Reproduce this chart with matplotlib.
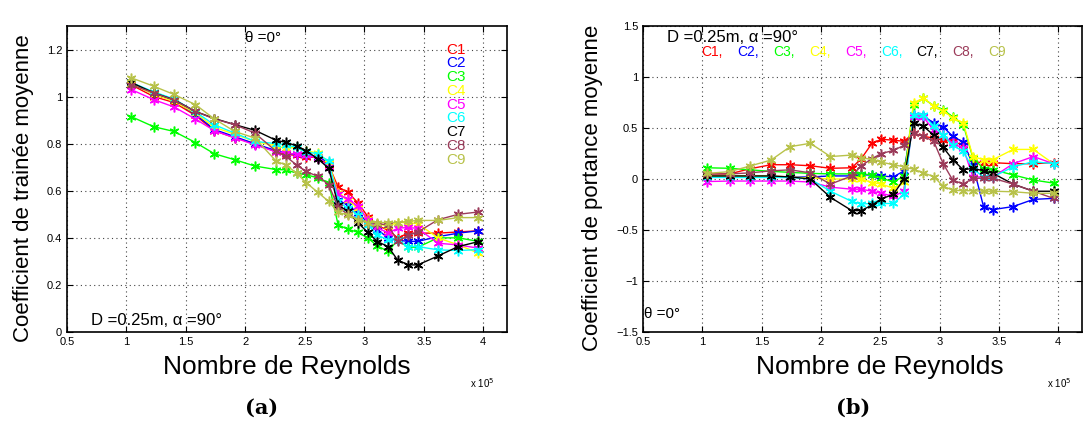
import numpy as np
import matplotlib.pyplot as plt

# Reynolds number (x 10^5)
re = [1.04, 1.23, 1.40, 1.58, 1.74, 1.91, 2.08, 2.26, 2.34, 2.43, 2.51, 2.61, 2.70,
      2.78, 2.86, 2.95, 3.03, 3.11, 3.20, 3.28, 3.37, 3.45, 3.62, 3.79, 3.96]

names = ["C1", "C2", "C3", "C4", "C5", "C6", "C7", "C8", "C9"]
colors = ["#ff0000", "#0000ff", "#00ff00", "#ffff00", "#ff00ff", "#00ffff",
          "#000000", "#9b3b5a", "#b8c24a"]

# (a) coefficient de trainee
cd_c1 = [1.05, 1.00, 0.975, 0.92, 0.855, 0.825, 0.80, 0.765, 0.755, 0.75, 0.745, 0.74, 0.71,
         0.615, 0.595, 0.547, 0.49, 0.45, 0.435, 0.40, 0.42, 0.42, 0.42, 0.425, 0.43]
cd_c2 = [1.06, 1.01, 0.985, 0.925, 0.86, 0.83, 0.80, 0.77, 0.76, 0.755, 0.75, 0.745, 0.72,
         0.56, 0.54, 0.505, 0.465, 0.435, 0.40, 0.39, 0.385, 0.385, 0.405, 0.42, 0.43]
cd_c3 = [0.915, 0.872, 0.852, 0.805, 0.757, 0.732, 0.705, 0.69, 0.689, 0.675, 0.668, 0.655, 0.635,
         0.455, 0.437, 0.423, 0.399, 0.366, 0.342, 0.39, 0.36, 0.36, 0.40, 0.40, 0.385]
cd_c4 = [1.055, 1.01, 0.98, 0.93, 0.87, 0.84, 0.81, 0.79, 0.78, 0.785, 0.77, 0.76, 0.72,
         0.59, 0.56, 0.525, 0.48, 0.46, 0.45, 0.465, 0.465, 0.46, 0.40, 0.37, 0.335]
cd_c5 = [1.03, 0.987, 0.956, 0.905, 0.855, 0.825, 0.795, 0.765, 0.76, 0.756, 0.75, 0.74, 0.70,
         0.585, 0.565, 0.534, 0.477, 0.444, 0.42, 0.441, 0.444, 0.44, 0.377, 0.37, 0.356]
cd_c6 = [1.06, 1.02, 0.99, 0.935, 0.88, 0.845, 0.81, 0.80, 0.795, 0.785, 0.765, 0.757, 0.725,
         0.555, 0.526, 0.498, 0.455, 0.413, 0.39, 0.391, 0.363, 0.363, 0.349, 0.346, 0.35]
cd_c7 = [1.06, 1.016, 0.987, 0.937, 0.907, 0.881, 0.857, 0.814, 0.806, 0.791, 0.771, 0.735, 0.696,
         0.54, 0.512, 0.462, 0.423, 0.384, 0.363, 0.306, 0.285, 0.285, 0.323, 0.363, 0.384]
cd_c8 = [1.05, 1.016, 0.985, 0.937, 0.905, 0.881, 0.845, 0.767, 0.746, 0.71, 0.682, 0.661, 0.626,
         0.53, 0.50, 0.475, 0.465, 0.46, 0.455, 0.385, 0.41, 0.425, 0.477, 0.50, 0.51]
cd_c9 = [1.08, 1.044, 1.009, 0.966, 0.905, 0.852, 0.824, 0.725, 0.71, 0.675, 0.635, 0.593, 0.555,
         0.508, 0.498, 0.477, 0.465, 0.465, 0.465, 0.465, 0.47, 0.474, 0.474, 0.486, 0.486]

# (b) coefficient de portance
cl_c1 = [0.05, 0.05, 0.10, 0.14, 0.14, 0.13, 0.105, 0.11, 0.20, 0.35, 0.39, 0.38, 0.37,
         0.45, 0.42, 0.40, 0.38, 0.37, 0.33, 0.17, 0.16, 0.16, 0.15, 0.15, 0.16]
cl_c2 = [0.02, 0.02, 0.02, 0.02, 0.02, 0.02, 0.03, 0.03, 0.04, 0.04, 0.03, 0.02, 0.08,
         0.63, 0.62, 0.55, 0.51, 0.42, 0.36, 0.14, -0.27, -0.30, -0.27, -0.20, -0.19]
cl_c3 = [0.11, 0.105, 0.09, 0.075, 0.065, 0.055, 0.05, 0.05, 0.05, 0.04, 0.01, -0.03, 0.03,
         0.73, 0.79, 0.72, 0.68, 0.61, 0.53, 0.21, 0.10, 0.09, 0.04, -0.01, -0.04]
cl_c4 = [0.03, 0.03, 0.03, 0.03, 0.02, 0.01, 0.0, 0.0, 0.0, -0.035, -0.05, -0.09, -0.03,
         0.75, 0.79, 0.72, 0.67, 0.60, 0.55, 0.22, 0.19, 0.19, 0.29, 0.29, 0.15]
cl_c5 = [-0.025, -0.02, -0.02, -0.02, -0.02, -0.03, -0.08, -0.10, -0.10, -0.12, -0.14, -0.17, -0.12,
         0.61, 0.61, 0.48, 0.43, 0.35, 0.30, 0.02, 0.02, 0.02, 0.15, 0.22, 0.15]
cl_c6 = [0.015, 0.015, 0.015, 0.015, 0.015, 0.0, -0.12, -0.22, -0.245, -0.24, -0.24, -0.24, -0.15,
         0.63, 0.63, 0.52, 0.43, 0.33, 0.27, 0.10, 0.02, 0.02, 0.12, 0.17, 0.15]
cl_c7 = [0.03, 0.03, 0.03, 0.03, 0.02, 0.0, -0.18, -0.31, -0.31, -0.255, -0.195, -0.15, 0.0,
         0.55, 0.52, 0.43, 0.31, 0.19, 0.09, 0.105, 0.08, 0.055, -0.05, -0.12, -0.12]
cl_c8 = [0.05, 0.05, 0.06, 0.08, 0.09, 0.06, -0.05, 0.03, 0.13, 0.20, 0.25, 0.28, 0.33,
         0.45, 0.42, 0.37, 0.15, -0.01, -0.05, 0.007, 0.007, 0.007, -0.05, -0.12, -0.19]
cl_c9 = [0.055, 0.072, 0.127, 0.186, 0.317, 0.35, 0.22, 0.235, 0.21, 0.19, 0.165, 0.14, 0.12,
         0.095, 0.062, 0.023, -0.07, -0.11, -0.115, -0.115, -0.12, -0.12, -0.125, -0.14, -0.14]

cd_all = [cd_c1, cd_c2, cd_c3, cd_c4, cd_c5, cd_c6, cd_c7, cd_c8, cd_c9]
cl_all = [cl_c1, cl_c2, cl_c3, cl_c4, cl_c5, cl_c6, cl_c7, cl_c8, cl_c9]

plt.rcParams["font.family"] = ["Liberation Sans", "DejaVu Sans"]

W, H = 1083, 424
fig = plt.figure(figsize=(W / 100, H / 100), dpi=100)

def px_axes(x0, x1, y0, y1):
    return fig.add_axes([x0 / W, 1 - y1 / H, (x1 - x0) / W, (y1 - y0) / H])

ax1 = px_axes(67, 507, 26, 332)
ax2 = px_axes(643, 1082, 26, 332)

for ax, data in [(ax1, cd_all), (ax2, cl_all)]:
    for y, c in zip(data, colors):
        # matlab-like asterisk marker
        ax.plot(re, y, color=c, marker=(6, 2, 0), markersize=7,
                markeredgewidth=1.1, linewidth=1)
    ax.set_xlim(0.5, 4.2)
    ax.set_xticks([0.5, 1, 1.5, 2, 2.5, 3, 3.5, 4])
    ax.set_xticklabels(["0.5", "1", "1.5", "2", "2.5", "3", "3.5", "4"])
    ax.grid(True, color="#444444", linestyle=(0, (1, 3)), linewidth=0.8)
    ax.tick_params(direction="in", labelsize=8, length=4, top=True, right=True)
    for s in ax.spines.values():
        s.set_linewidth(1.2)
    ax.set_xlabel("Nombre de Reynolds", fontsize=19)

ax1.set_ylim(0, 1.3)
ax1.set_yticks([0, 0.2, 0.4, 0.6, 0.8, 1, 1.2])
ax1.set_yticklabels(["0", "0.2", "0.4", "0.6", "0.8", "1", "1.2"])
ax1.set_ylabel("Coefficient de trainée moyenne", fontsize=16)
ax1.yaxis.set_label_coords(-0.075, 0.47)
ax1.xaxis.set_label_coords(0.50, -0.075)

ax2.set_ylim(-1.5, 1.5)
ax2.set_yticks([-1.5, -1, -0.5, 0, 0.5, 1, 1.5])
ax2.set_yticklabels(["\u22121.5", "\u22121", "\u22120.5", "0", "0.5", "1", "1.5"])
ax2.set_ylabel("Coefficient de portance moyenne", fontsize=16)
ax2.yaxis.set_label_coords(-0.091, 0.47)
ax2.xaxis.set_label_coords(0.54, -0.075)

# annotations
ax1.text(2.0, 1.25, "\u03b8 =0\u00b0", fontsize=11, va="center")
ax1.text(0.70, 0.05, "D =0.25m, \u03b1 =90\u00b0", fontsize=12, va="center")
for i, (n, c) in enumerate(zip(names, colors)):
    ax1.text(3.69, 1.2 - i * 0.0585, n, color=c, fontsize=11, va="center")

ax2.text(0.70, 1.39, "D =0.25m, \u03b1 =90\u00b0", fontsize=12, va="center")
for i, (n, c) in enumerate(zip(names, colors)):
    lab = n + "," if i < 8 else n
    ax2.text(0.995 + i * 0.302, 1.245, lab, color=c, fontsize=10, va="center")
ax2.text(0.51, -1.32, "\u03b8 =0\u00b0", fontsize=11, va="center")

fig.text(470 / W, 1 - 383 / H, "x 10$^5$", fontsize=7, va="center")
fig.text(1047 / W, 1 - 383 / H, "x 10$^5$", fontsize=7, va="center")

fig.text(262 / W, 1 - 408 / H, "(a)", fontsize=15, fontweight="bold",
         family="DejaVu Serif", ha="center", va="center")
fig.text(853 / W, 1 - 408 / H, "(b)", fontsize=15, fontweight="bold",
         family="DejaVu Serif", ha="center", va="center")

fig.savefig("out.png", dpi=100)
